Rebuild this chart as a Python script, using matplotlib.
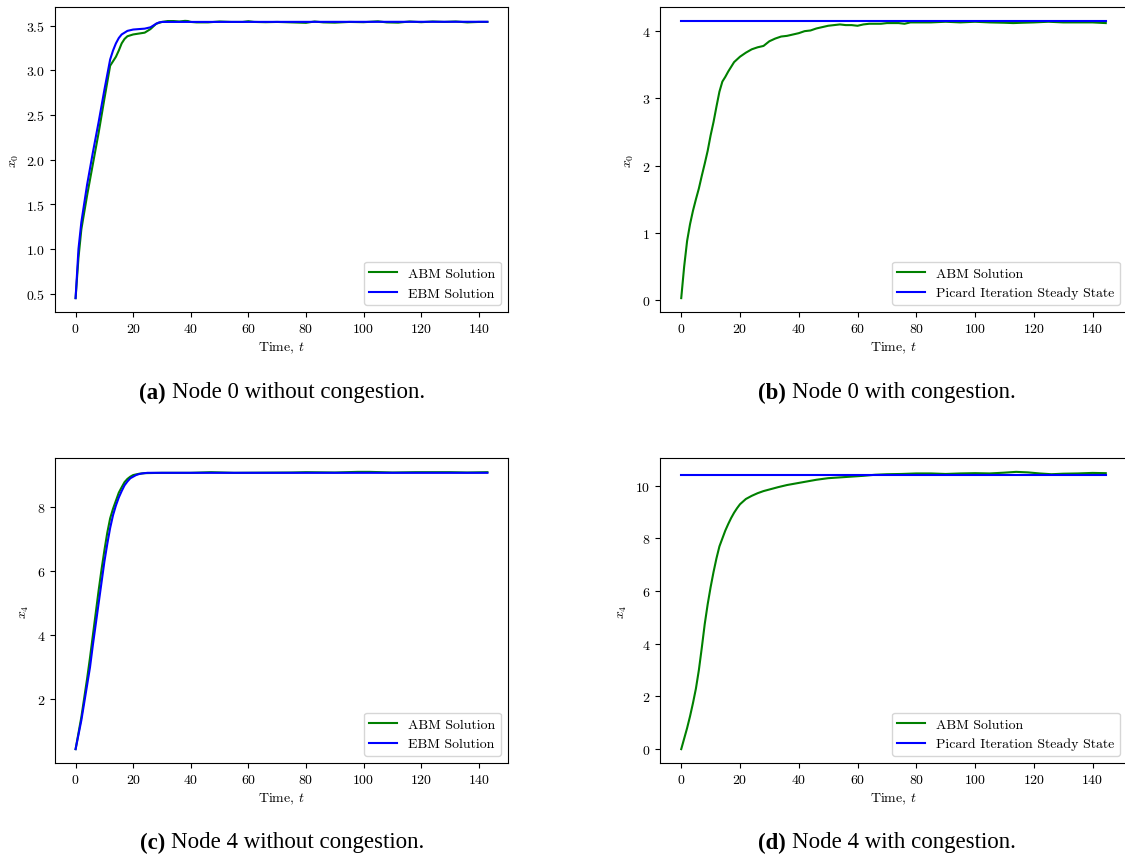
import matplotlib
matplotlib.use("Agg")
import matplotlib.pyplot as plt
import numpy as np

plt.rcParams['font.family'] = 'serif'
plt.rcParams['font.serif'] = ['cmr10']
plt.rcParams['mathtext.fontset'] = 'cm'
plt.rcParams['axes.formatter.use_mathtext'] = True
plt.rcParams['font.size'] = 10

# (a) node 0, no congestion
t_a_abm = [0, 1, 2, 4, 6, 8, 10, 12, 13, 14, 15, 16, 17, 18, 20, 22, 24, 26, 27, 28, 29, 30,
           32, 34, 36, 38, 39, 40, 42, 46, 50, 54, 58, 60, 62, 66, 70, 75, 80, 83, 86, 90,
           95, 100, 105, 108, 112, 116, 120, 124, 128, 132, 136, 140, 143]
x_a_abm = [0.45, 0.9, 1.22, 1.6, 1.95, 2.3, 2.68, 3.05, 3.1, 3.15, 3.22, 3.30, 3.35, 3.38, 3.40, 3.41,
           3.42, 3.46, 3.49, 3.52, 3.53, 3.54, 3.55, 3.55, 3.545, 3.552, 3.55, 3.54, 3.535, 3.535,
           3.545, 3.54, 3.54, 3.548, 3.54, 3.537, 3.54, 3.535, 3.53, 3.545, 3.535, 3.532, 3.54,
           3.537, 3.547, 3.535, 3.532, 3.545, 3.537, 3.545, 3.54, 3.545, 3.535, 3.54, 3.54]
t_a_ebm = [0, 1, 2, 4, 6, 8, 10, 12, 13, 14, 15, 16, 17, 18, 20, 22, 24, 26, 27, 28, 29, 30, 143]
x_a_ebm = [0.45, 1.0, 1.3, 1.72, 2.08, 2.42, 2.78, 3.12, 3.22, 3.30, 3.36, 3.40, 3.42, 3.44, 3.455,
           3.46, 3.465, 3.48, 3.50, 3.52, 3.535, 3.54, 3.542]

# (b) node 0, with congestion
t_b_abm = [0, 1, 2, 3, 4, 5, 6, 7, 8, 9, 10, 11, 12, 13, 14, 15, 16, 17, 18, 19, 20, 22, 24, 26,
           28, 30, 32, 34, 36, 38, 40, 42, 44, 46, 48, 50, 52, 54, 56, 58, 60, 62, 64, 66, 68,
           70, 72, 74, 76, 78, 80, 85, 90, 95, 100, 105, 110, 113, 116, 120, 125, 130, 135, 140, 144.5]
x_b_abm = [0.03, 0.5, 0.88, 1.13, 1.33, 1.5, 1.66, 1.85, 2.03, 2.22, 2.45, 2.65, 2.88, 3.1, 3.25,
           3.32, 3.4, 3.47, 3.54, 3.58, 3.62, 3.68, 3.73, 3.76, 3.78, 3.85, 3.89, 3.92, 3.93, 3.95,
           3.97, 4.0, 4.01, 4.04, 4.06, 4.08, 4.09, 4.1, 4.09, 4.09, 4.08, 4.1, 4.11, 4.11, 4.11,
           4.12, 4.12, 4.12, 4.11, 4.13, 4.13, 4.13, 4.14, 4.13, 4.14, 4.13, 4.125, 4.12, 4.125,
           4.13, 4.14, 4.13, 4.13, 4.13, 4.12]
t_b_pic = [0, 144.5]
x_b_pic = [4.153, 4.153]

# (c) node 4, no congestion
t_c_abm = [0, 1, 2, 3, 4, 5, 6, 7, 8, 9, 10, 11, 12, 13, 14, 15, 16, 17, 18, 19, 20, 22, 24, 30,
           40, 47, 55, 65, 75, 80, 90, 98, 102, 110, 118, 130, 136, 143]
x_c_abm = [0.45, 0.95, 1.45, 2.05, 2.65, 3.3, 4.0, 4.7, 5.4, 6.05, 6.65, 7.2, 7.65, 7.95, 8.2, 8.45,
           8.62, 8.78, 8.88, 8.95, 9.0, 9.04, 9.06, 9.07, 9.07, 9.09, 9.07, 9.075, 9.08, 9.09, 9.08,
           9.1, 9.1, 9.08, 9.09, 9.09, 9.08, 9.09]
t_c_ebm = [0, 1, 2, 3, 4, 5, 6, 7, 8, 9, 10, 11, 12, 13, 14, 15, 16, 17, 18, 19, 20, 21, 22, 23,
           25, 30, 143]
x_c_ebm = [0.45, 0.9, 1.35, 1.9, 2.45, 3.0, 3.7, 4.35, 5.0, 5.65, 6.3, 6.85, 7.35, 7.75, 8.05, 8.3,
           8.5, 8.68, 8.8, 8.9, 8.95, 9.0, 9.03, 9.05, 9.07, 9.07, 9.07]

# (d) node 4, with congestion
t_d_abm = [0, 1, 2, 3, 4, 5, 6, 7, 8, 9, 10, 11, 12, 13, 14, 15, 16, 17, 18, 19, 20, 22, 24, 26,
           28, 30, 33, 36, 40, 43, 46, 50, 54, 58, 62, 66, 70, 75, 80, 85, 90, 95, 100, 105, 110,
           114, 118, 122, 126, 130, 135, 140, 144.5]
x_d_abm = [0.0, 0.4, 0.8, 1.25, 1.75, 2.3, 3.0, 3.85, 4.75, 5.5, 6.15, 6.73, 7.25, 7.7, 8.0, 8.3,
           8.55, 8.78, 8.98, 9.15, 9.3, 9.5, 9.62, 9.72, 9.8, 9.86, 9.95, 10.03, 10.11, 10.17,
           10.23, 10.29, 10.32, 10.35, 10.38, 10.42, 10.44, 10.45, 10.47, 10.47, 10.45, 10.47,
           10.48, 10.47, 10.5, 10.53, 10.51, 10.47, 10.44, 10.46, 10.47, 10.49, 10.48]
t_d_pic = [0, 144.5]
x_d_pic = [10.42, 10.42]

W, H = 1125, 862
fig = plt.figure(figsize=(W / 100, H / 100), dpi=100)


def add_ax(x0, y0, x1, y1):
    return fig.add_axes([x0 / W, (H - y1) / H, (x1 - x0) / W, (y1 - y0) / H])


panels = [
    (add_ax(55, 8, 508, 313), t_a_abm, x_a_abm, t_a_ebm, x_a_ebm, 'EBM Solution', '$x_0$'),
    (add_ax(660, 8, 1127, 313), t_b_abm, x_b_abm, t_b_pic, x_b_pic, 'Picard Iteration Steady State', '$x_0$'),
    (add_ax(55, 459, 508, 764), t_c_abm, x_c_abm, t_c_ebm, x_c_ebm, 'EBM Solution', '$x_4$'),
    (add_ax(660, 459, 1127, 764), t_d_abm, x_d_abm, t_d_pic, x_d_pic, 'Picard Iteration Steady State', '$x_4$'),
]

for ax, t1, y1, t2, y2, lab2, ylab in panels:
    ax.plot(t1, y1, color='green', label='ABM Solution')
    ax.plot(t2, y2, color='blue', label=lab2)
    ax.set_xlabel('Time, $t$')
    ax.set_ylabel(ylab)
    ax.set_xticks([0, 20, 40, 60, 80, 100, 120, 140])
    ax.legend(loc='lower right')

# subfigure captions
captions = [
    (282, 393, '(a)', 'Node 0 without congestion.'),
    (887, 393, '(b)', 'Node 0 with congestion.'),
    (282, 843, '(c)', 'Node 4 without congestion.'),
    (887, 843, '(d)', 'Node 4 with congestion.'),
]
renderer = fig.canvas.get_renderer()
for cx, cy, tag, body in captions:
    t1 = fig.text(0, 0, tag + ' ', family='Liberation Serif', weight='bold', fontsize=16.5, va='center')
    t2 = fig.text(0, 0, body, family='Liberation Serif', fontsize=16.5, va='center')
    w1 = t1.get_window_extent(renderer).width
    w2 = t2.get_window_extent(renderer).width
    left = cx - (w1 + w2) / 2
    t1.set_position((left / W, (H - cy) / H))
    t2.set_position(((left + w1) / W, (H - cy) / H))

fig.savefig('out.png', dpi=100)
